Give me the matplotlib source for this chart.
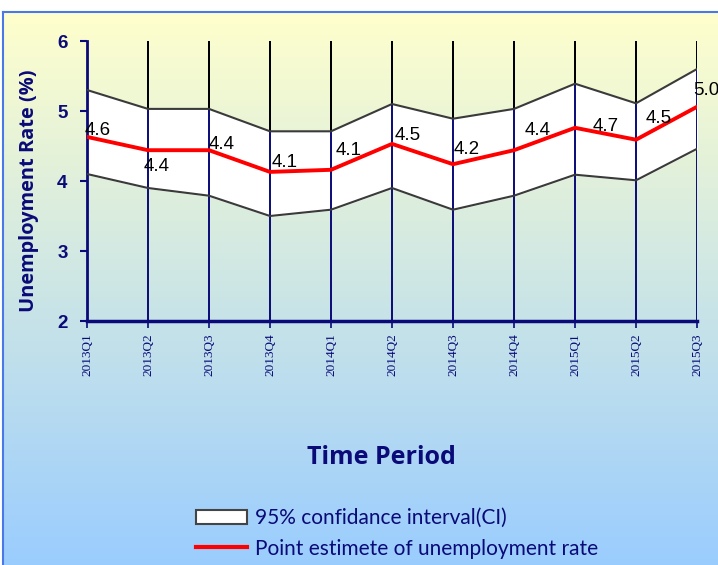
import numpy as np
import matplotlib
matplotlib.use('Agg')
import matplotlib.pyplot as plt
from matplotlib.patches import Patch
from matplotlib.lines import Line2D

# Data
periods = ['2013Q1', '2013Q2', '2013Q3', '2013Q4', '2014Q1', '2014Q2',
           '2014Q3', '2014Q4', '2015Q1', '2015Q2', '2015Q3']
point_estimate = [4.63, 4.44, 4.44, 4.13, 4.16, 4.53, 4.24, 4.44, 4.76, 4.59, 5.06]
ci_upper = [5.30, 5.03, 5.03, 4.71, 4.71, 5.10, 4.89, 5.03, 5.39, 5.11, 5.60]
ci_lower = [4.10, 3.90, 3.79, 3.50, 3.59, 3.90, 3.59, 3.79, 4.09, 4.01, 4.46]
point_labels = ['4.6', '4.4', '4.4', '4.1', '4.1', '4.5', '4.2', '4.4', '4.7', '4.5', '5.0']
y_ticks = [2, 3, 4, 5, 6]

# label offsets in points (dx, dy) relative to each point, baseline aligned
label_offsets = [(-1.4, 1.4), (-2.9, -15.1), (0, 0.7), (1.4, 3.6), (3.6, 10.8),
                 (2.2, 2.9), (0.7, 7.2), (7.9, 10.8), (13, -2.2), (7.2, 12.2),
                 (-2.9, 8.6)]

NAVY = '#0a0a78'
W, H = 718, 565

fig = plt.figure(figsize=(W / 100, H / 100), dpi=100)
fig.patch.set_facecolor('white')

# Gradient background with blue border
bg = fig.add_axes([3 / W, -0.01, 1 - 3 / W + 0.01, 1 - 12 / H + 0.01], zorder=-5)
top = np.array([1.0, 1.0, 0.80])
bottom = np.array([0.60, 0.80, 1.0])
t = np.linspace(0, 1, 256)[:, None]
grad = top[None, :] * (1 - t) + bottom[None, :] * t
bg.imshow(grad[:, None, :].repeat(2, axis=1), aspect='auto', extent=[0, 1, 0, 1])
bg.set_xticks([])
bg.set_yticks([])
for s in bg.spines.values():
    s.set_color('#4a78e8')
    s.set_linewidth(1.5)

ax = fig.add_axes([87 / W, 1 - 321 / H, (697 - 87) / W, (321 - 41) / H])
ax.patch.set_alpha(0)
x = np.arange(len(periods))

# confidence band
ax.fill_between(x, ci_lower, ci_upper, color='white', zorder=1)

# vertical grid lines: navy everywhere, black above the band
ax.vlines(x, 2, 6, colors=NAVY, linewidth=1.4, zorder=2)
ax.vlines(x, ci_upper, 6, colors='black', linewidth=1.4, zorder=2)

ax.plot(x, ci_upper, color='#3a3a3a', linewidth=1.5, zorder=3)
ax.plot(x, ci_lower, color='#3a3a3a', linewidth=1.5, zorder=3)
ax.plot(x, point_estimate, color='#ff0000', linewidth=2.8, zorder=4, solid_joinstyle='miter')

for xi, yi, lab, off in zip(x, point_estimate, point_labels, label_offsets):
    ax.annotate(lab, (xi, yi), xytext=off, textcoords='offset points',
                ha='left', va='baseline', fontsize=13.5, family='Liberation Sans',
                color='black', zorder=5, annotation_clip=False)

ax.set_xlim(0, len(periods) - 1)
ax.set_ylim(2, 6)
ax.set_yticks(y_ticks)
ax.set_yticklabels([str(v) for v in y_ticks], fontsize=13.5, fontweight='bold',
                   color=NAVY, family='Liberation Sans')
ax.set_xticks(x)
ax.set_xticklabels(periods, rotation=90, fontsize=9.5, color=NAVY,
                   family='Liberation Serif', va='top')
ax.tick_params(axis='y', length=5, width=1.5, color=NAVY, pad=9)
ax.tick_params(axis='x', length=5, width=1.2, color=NAVY, pad=4)

ax.spines['top'].set_visible(False)
ax.spines['right'].set_visible(False)
ax.spines['left'].set_color(NAVY)
ax.spines['left'].set_linewidth(2)
ax.spines['bottom'].set_color(NAVY)
ax.spines['bottom'].set_linewidth(2.5)

ax.set_ylabel('Unemployment Rate (%)', fontsize=14.4, fontweight='bold',
              color=NAVY, family='Open Sans')
ax.yaxis.set_label_coords((39 - 87) / 610, (321 - 191) / 280)
fig.text(381 / W, 1 - 457 / H, 'Time Period', fontsize=18, fontweight='bold',
         color=NAVY, family='Open Sans', ha='center', va='center')

handles = [Patch(facecolor='white', edgecolor='#444444', linewidth=1.5),
           Line2D([0], [0], color='#ff0000', linewidth=3)]
fig.legend(handles, ['95% confidance interval(CI)', 'Point estimete of unemployment rate'],
           loc='center left', bbox_to_anchor=(196 / W, 1 - 533.5 / H), frameon=False,
           prop={'family': 'Lato', 'size': 15}, labelcolor=NAVY,
           handlelength=2.45, handleheight=0.7, handletextpad=0.39, labelspacing=0.5,
           borderaxespad=0, borderpad=0)

fig.savefig('out.png', dpi=100)
